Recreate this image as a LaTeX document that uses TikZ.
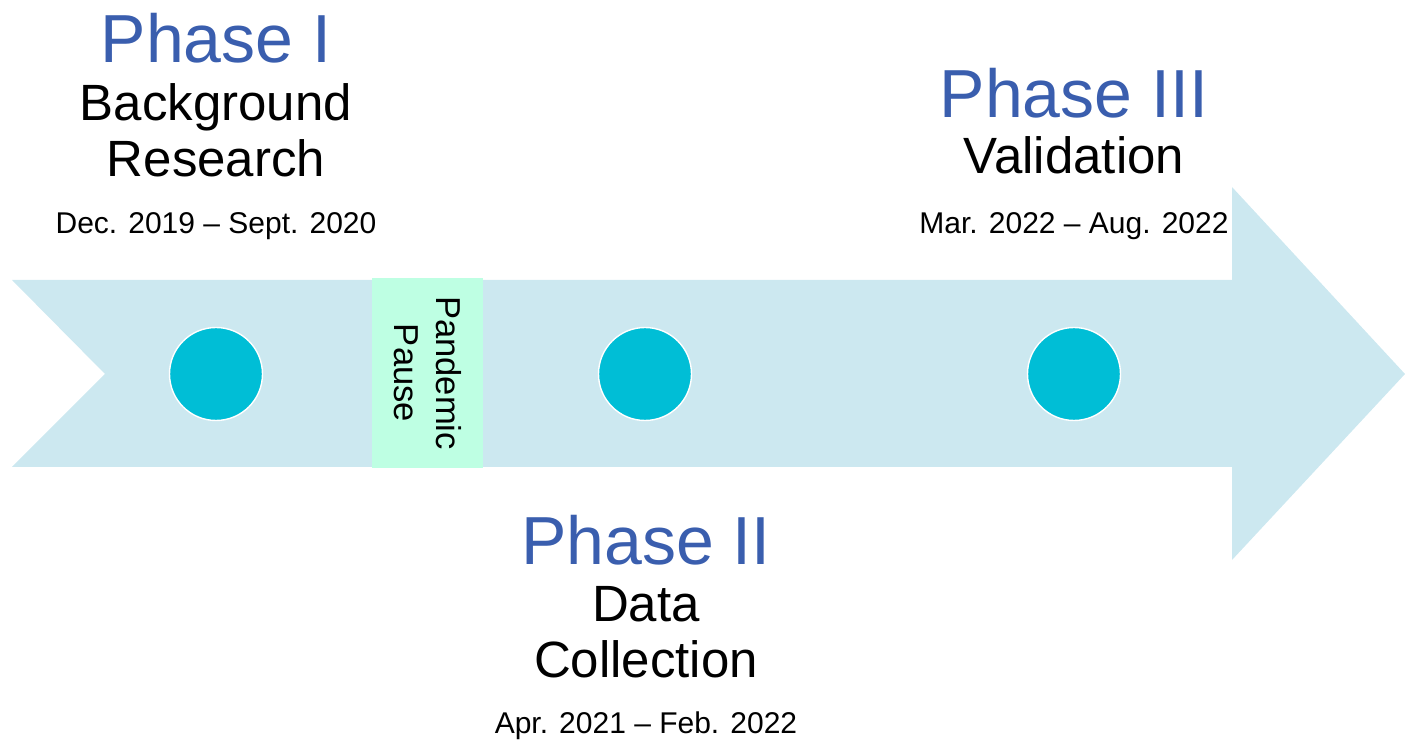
\documentclass[tikz,border=0pt]{standalone}
\usepackage{fontspec}
\setmainfont{Liberation Sans}
\usetikzlibrary{positioning}
\definecolor{tlarrow}{HTML}{CCE8F0}
\definecolor{tldot}{HTML}{00BED6}
\definecolor{tlblue}{HTML}{3A5EAE}
\definecolor{tlmint}{HTML}{BEFFE3}

\begin{document}
\begin{tikzpicture}[x=0.5pt,y=-0.5pt,
  phasedot/.style={circle,fill=tldot,draw=white,line width=0.7pt,minimum size=46.5pt,inner sep=0pt},
  phase/.style={anchor=base,text=tlblue,inner sep=0pt,font=\fontsize{34}{40}\selectfont},
  task/.style={anchor=base,align=center,inner sep=0pt,font=\fontsize{25.5}{28}\selectfont},
  dates/.style={anchor=base,inner sep=0pt,font=\fontsize{15}{18}\selectfont}]
\useasboundingbox (0,0) rectangle (1405,742);
% timeline arrow
\fill[tlarrow] (12,280) -- (1232,280) -- (1232,187) -- (1405,374) -- (1232,560)
  -- (1232,467) -- (12,467) -- (105,374) -- cycle;
\node[phasedot] (dotone) at (216,374) {};
\node[phasedot] (dottwo) at (645,374) {};
\node[phasedot] (dotthree) at (1074,374) {};
\node[fill=tlmint,rotate=-90,minimum width=95pt,minimum height=55.5pt,align=center,
  font=\fontsize{17.3}{21}\selectfont] (pause) at (427.5,373) {Pandemic\\Pause};
% phase I
\node[phase] (phaseone) at (216,63) {Phase I};
\node[task] (taskone) at (216,177) {Background\\Research};
\node[dates] (dateone) at (216,234) {Dec. 2019 -- Sept. 2020};
% phase II
\node[phase] (phasetwo) at (646,565) {Phase II};
\node[task] (tasktwo) at (646,678) {Data\\Collection};
\node[dates] (datetwo) at (646,734) {Apr. 2021 -- Feb. 2022};
% phase III
\node[phase] (phasethree) at (1074,118) {Phase III};
\node[task] (taskthree) at (1074,174) {Validation};
\node[dates] (datethree) at (1074,234) {Mar. 2022 -- Aug. 2022};
\end{tikzpicture}
\end{document}
